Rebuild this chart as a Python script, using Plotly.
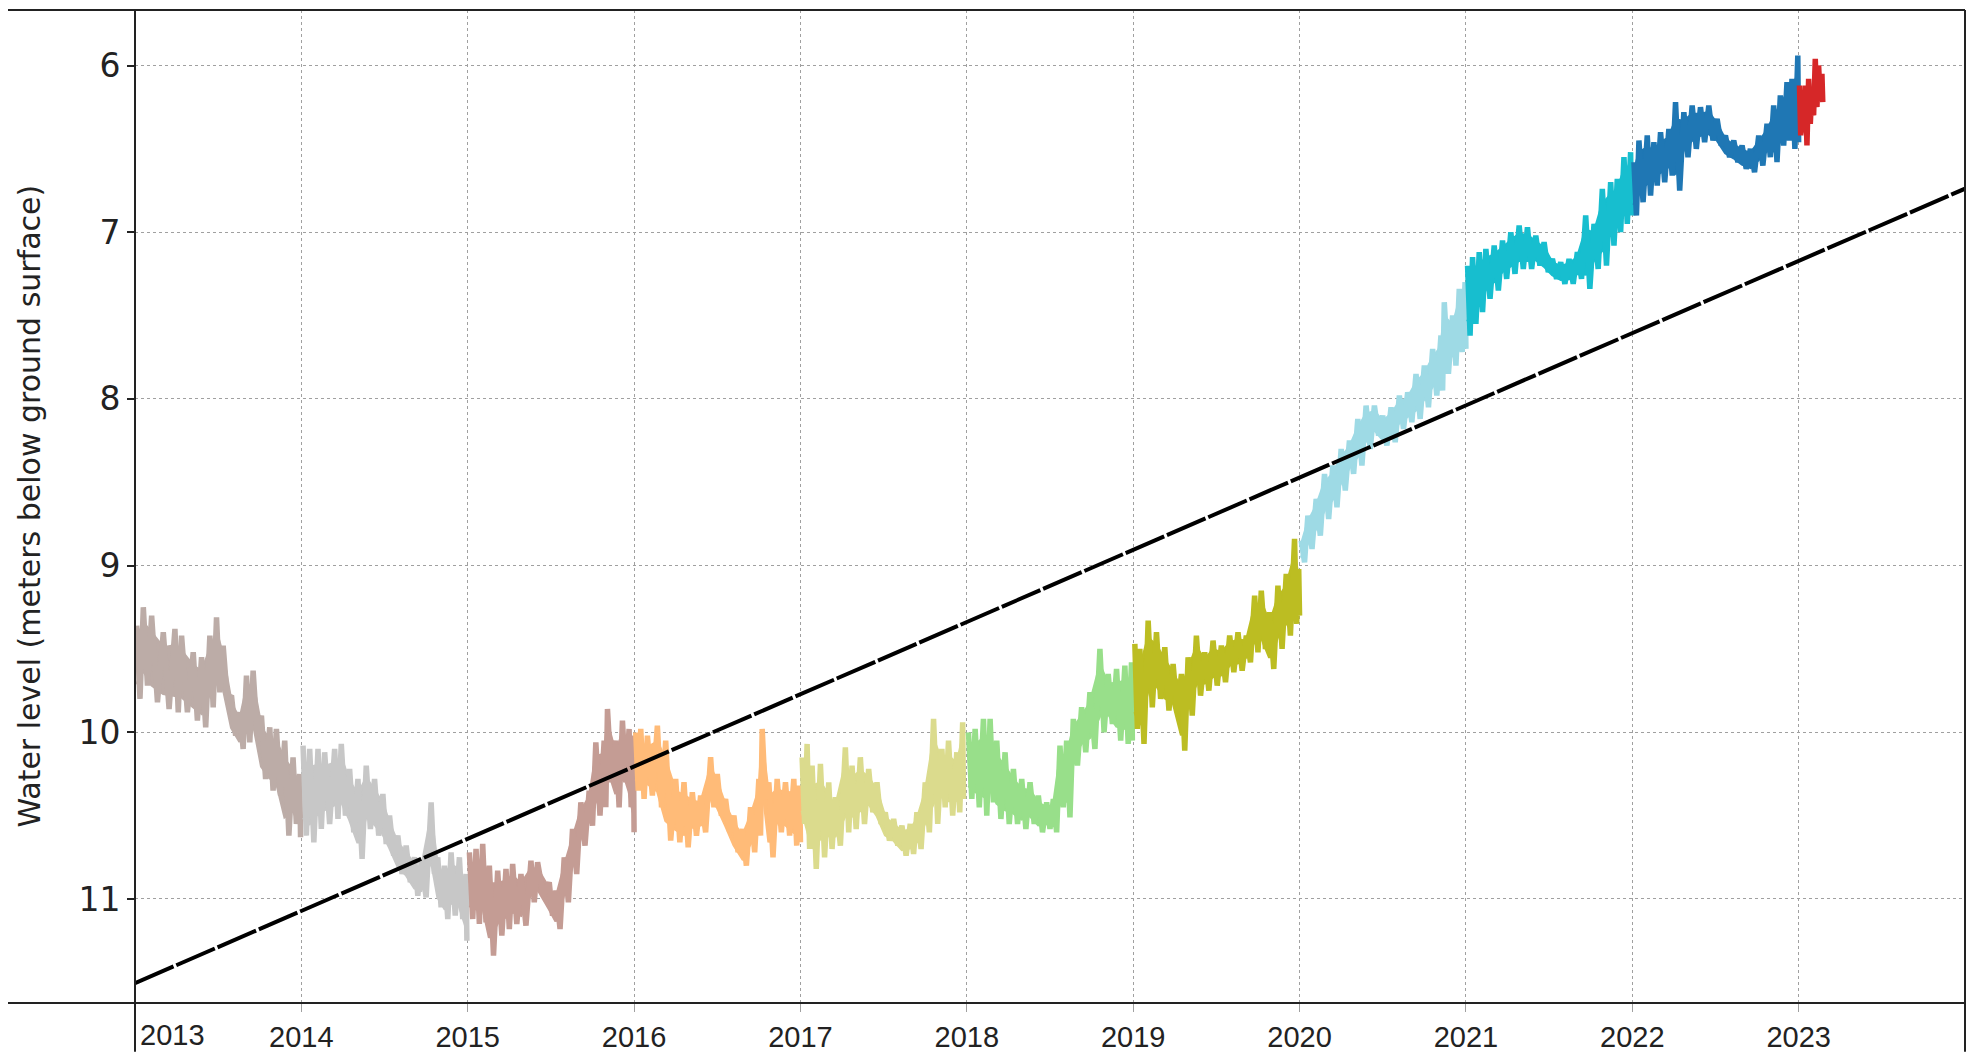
import plotly.graph_objects as go

# ---------------- data ----------------
YEARS = [2013, 2014, 2015, 2016, 2017, 2018, 2019, 2020, 2021, 2022, 2023]
COLORS = ["#bcaca7", "#c7c7c7", "#c49c94", "#ffbb78", "#dbdb8d", "#98df8a",
          "#bcbd22", "#9edae5", "#17becf", "#1f77b4", "#d62728"]

# (fraction of year, upper reading, lower reading) in metres below ground surface
r2013 = [(0.01, 9.36, 9.80), (0.05, 9.25, 9.72), (0.10, 9.30, 9.82), (0.17, 9.40, 9.86),
         (0.24, 9.38, 9.88), (0.28, 9.42, 9.88), (0.35, 9.52, 9.93), (0.40, 9.55, 9.97),
         (0.45, 9.42, 9.85), (0.49, 9.31, 9.76), (0.53, 9.48, 9.80), (0.58, 9.78, 10.02),
         (0.63, 9.88, 10.10), (0.67, 9.66, 10.06), (0.71, 9.63, 10.02), (0.76, 9.90, 10.28),
         (0.81, 9.97, 10.35), (0.85, 9.98, 10.38), (0.90, 10.05, 10.62), (0.95, 10.15, 10.55),
         (0.99, 10.25, 10.63)]
r2014 = [(0.01, 10.08, 10.62), (0.05, 10.10, 10.66), (0.10, 10.10, 10.58), (0.14, 10.12, 10.55),
         (0.20, 10.10, 10.52), (0.24, 10.07, 10.50), (0.29, 10.22, 10.60), (0.34, 10.28, 10.76),
         (0.39, 10.20, 10.58), (0.44, 10.28, 10.62), (0.49, 10.37, 10.67), (0.53, 10.50, 10.74),
         (0.58, 10.62, 10.85), (0.63, 10.68, 10.90), (0.68, 10.75, 10.98), (0.72, 10.78, 10.99),
         (0.78, 10.42, 10.85), (0.82, 10.75, 11.05), (0.86, 10.80, 11.12), (0.90, 10.72, 11.10),
         (0.95, 10.75, 11.12), (0.99, 10.85, 11.25)]
r2015 = [(0.01, 10.72, 11.12), (0.05, 10.70, 11.15), (0.09, 10.67, 11.14), (0.13, 10.80, 11.34),
         (0.18, 10.83, 11.22), (0.23, 10.82, 11.18), (0.27, 10.79, 11.15), (0.32, 10.85, 11.16),
         (0.38, 10.77, 11.02), (0.42, 10.78, 10.98), (0.49, 10.90, 11.10), (0.53, 10.95, 11.18),
         (0.58, 10.75, 11.02), (0.63, 10.58, 10.85), (0.68, 10.42, 10.68), (0.73, 10.35, 10.56),
         (0.77, 10.06, 10.50), (0.82, 10.05, 10.45), (0.84, 9.86, 10.30), (0.89, 10.05, 10.45),
         (0.93, 9.93, 10.30), (0.97, 9.98, 10.45), (0.995, 10.02, 10.60)]
r2016 = [(0.01, 10.00, 10.35), (0.04, 9.98, 10.40), (0.08, 10.02, 10.38), (0.14, 9.96, 10.45),
         (0.19, 10.05, 10.65), (0.25, 10.28, 10.66), (0.30, 10.30, 10.69), (0.35, 10.36, 10.62),
         (0.40, 10.38, 10.60), (0.46, 10.15, 10.45), (0.50, 10.25, 10.50), (0.55, 10.40, 10.60),
         (0.60, 10.50, 10.72), (0.65, 10.58, 10.80), (0.70, 10.45, 10.72), (0.75, 10.28, 10.62),
         (0.77, 9.98, 10.40), (0.81, 10.30, 10.75), (0.86, 10.28, 10.60), (0.91, 10.30, 10.62),
         (0.96, 10.28, 10.68), (0.995, 10.32, 10.66)]
r2017 = [(0.01, 10.15, 10.55), (0.04, 10.07, 10.70), (0.07, 10.20, 10.82), (0.12, 10.19, 10.75),
         (0.17, 10.30, 10.70), (0.21, 10.39, 10.68), (0.27, 10.09, 10.60), (0.31, 10.20, 10.58),
         (0.36, 10.15, 10.55), (0.41, 10.22, 10.48), (0.46, 10.30, 10.55), (0.51, 10.48, 10.65),
         (0.56, 10.52, 10.68), (0.61, 10.56, 10.74), (0.66, 10.55, 10.73), (0.70, 10.48, 10.70),
         (0.75, 10.30, 10.60), (0.80, 9.92, 10.55), (0.85, 10.10, 10.45), (0.89, 10.05, 10.50),
         (0.94, 10.12, 10.48), (0.975, 9.94, 10.40)]
r2018 = [(0.01, 10.00, 10.40), (0.05, 9.98, 10.45), (0.10, 9.92, 10.50), (0.14, 9.92, 10.42),
         (0.18, 10.05, 10.52), (0.23, 10.12, 10.55), (0.28, 10.22, 10.55), (0.33, 10.28, 10.58),
         (0.38, 10.30, 10.55), (0.43, 10.38, 10.60), (0.48, 10.42, 10.58), (0.52, 10.40, 10.60),
         (0.56, 10.08, 10.45), (0.60, 10.05, 10.51), (0.64, 9.92, 10.20), (0.69, 9.85, 10.12),
         (0.74, 9.76, 10.10), (0.80, 9.50, 10.00), (0.85, 9.65, 9.95), (0.90, 9.62, 10.05),
         (0.95, 9.60, 10.07), (0.99, 9.58, 10.05)]
r2019 = [(0.01, 9.47, 9.98), (0.04, 9.50, 10.07), (0.09, 9.33, 9.85), (0.14, 9.40, 9.80),
         (0.19, 9.49, 9.87), (0.24, 9.59, 9.88), (0.29, 9.65, 10.11), (0.33, 9.55, 9.90),
         (0.38, 9.42, 9.78), (0.43, 9.52, 9.75), (0.48, 9.45, 9.72), (0.53, 9.48, 9.70),
         (0.58, 9.42, 9.64), (0.63, 9.40, 9.63), (0.68, 9.42, 9.58), (0.73, 9.18, 9.52),
         (0.77, 9.15, 9.50), (0.82, 9.28, 9.62), (0.87, 9.12, 9.50), (0.92, 9.05, 9.42),
         (0.97, 8.84, 9.35), (0.995, 9.02, 9.30)]
r2020 = [(0.01, 8.85, 8.98), (0.05, 8.70, 8.90), (0.10, 8.60, 8.82), (0.15, 8.45, 8.72),
         (0.20, 8.40, 8.65), (0.25, 8.30, 8.55), (0.30, 8.25, 8.45), (0.35, 8.12, 8.40),
         (0.40, 8.04, 8.30), (0.45, 8.04, 8.22), (0.50, 8.10, 8.28), (0.55, 8.05, 8.26),
         (0.60, 7.98, 8.18), (0.65, 7.96, 8.14), (0.70, 7.85, 8.12), (0.75, 7.80, 8.05),
         (0.80, 7.70, 7.98), (0.85, 7.62, 7.95), (0.87, 7.42, 7.85), (0.92, 7.50, 7.80),
         (0.96, 7.34, 7.72), (0.995, 7.30, 7.70)]
r2021 = [(0.01, 7.20, 7.62), (0.04, 7.15, 7.55), (0.08, 7.12, 7.48), (0.12, 7.10, 7.40),
         (0.17, 7.08, 7.35), (0.22, 7.05, 7.28), (0.27, 7.00, 7.25), (0.32, 6.96, 7.22),
         (0.37, 6.97, 7.22), (0.42, 7.02, 7.20), (0.47, 7.06, 7.24), (0.52, 7.16, 7.28),
         (0.57, 7.18, 7.31), (0.62, 7.16, 7.31), (0.67, 7.12, 7.28), (0.72, 6.90, 7.34),
         (0.77, 6.95, 7.22), (0.82, 6.74, 7.20), (0.87, 6.70, 7.08), (0.91, 6.68, 7.00),
         (0.95, 6.55, 6.95), (0.99, 6.52, 6.90)]
r2022 = [(0.01, 6.58, 6.90), (0.04, 6.45, 6.82), (0.09, 6.42, 6.78), (0.13, 6.46, 6.72),
         (0.17, 6.40, 6.70), (0.22, 6.38, 6.66), (0.26, 6.22, 6.75), (0.31, 6.28, 6.55),
         (0.36, 6.24, 6.50), (0.41, 6.25, 6.46), (0.46, 6.24, 6.45), (0.51, 6.32, 6.48),
         (0.56, 6.42, 6.55), (0.61, 6.45, 6.58), (0.66, 6.48, 6.62), (0.71, 6.50, 6.64),
         (0.76, 6.42, 6.60), (0.81, 6.35, 6.55), (0.85, 6.24, 6.58), (0.89, 6.18, 6.48),
         (0.93, 6.10, 6.45), (0.96, 6.08, 6.50), (0.995, 5.94, 6.46)]
r2023 = [(0.005, 6.12, 6.42), (0.02, 6.15, 6.40), (0.04, 6.12, 6.48), (0.06, 6.08, 6.35),
         (0.08, 6.15, 6.30), (0.10, 5.96, 6.25), (0.12, 6.00, 6.20), (0.14, 6.05, 6.22)]
READINGS = [r2013, r2014, r2015, r2016, r2017, r2018, r2019, r2020, r2021, r2022, r2023]

TREND_X = [2013.0, 2024.0]
TREND_Y = [11.505, 6.739]

X_TICKS = [2014, 2015, 2016, 2017, 2018, 2019, 2020, 2021, 2022, 2023]
Y_TICKS = [6, 7, 8, 9, 10, 11]
Y_TITLE = "Water level (meters below ground surface)"

# ---------------- figure ----------------
# the page body has an 8 px margin, so the figure is 16 px smaller than the window
W, H = 1961, 1047
ML, MR, MT, MB = 127, 4, 2, 49
PW, PH = W - ML - MR, H - MT - MB

X_FONT = "Liberation Sans Narrow, Arial Narrow, Liberation Sans"
CORE = 0.2  # share of the fluctuation range trimmed from each side for the solid core

fig = go.Figure()

for year, color, rows in zip(YEARS, COLORS, READINGS):
    fx = [year + f for f, _, _ in rows]
    core_hi = [hi + CORE * (lo - hi) for _, hi, lo in rows]
    core_lo = [lo - CORE * (lo - hi) for _, hi, lo in rows]
    # solid core of the record
    fig.add_trace(go.Scatter(x=fx + fx[::-1], y=core_hi + core_lo[::-1], mode="lines",
                             fill="toself", fillcolor=color,
                             line=dict(color=color, width=3),
                             showlegend=False, hoverinfo="skip"))
    # jagged fluctuation between upper and lower readings
    xs, ys = [], []
    for i, (f, hi, lo) in enumerate(rows):
        nxt = rows[i + 1][0] if i + 1 < len(rows) else f + 0.01
        xs += [year + f, year + (f + nxt) / 2]
        ys += [hi, lo]
    fig.add_trace(go.Scatter(x=xs, y=ys, mode="lines",
                             line=dict(color=color, width=5.5),
                             showlegend=False, hoverinfo="skip"))

fig.add_trace(go.Scatter(x=TREND_X, y=TREND_Y, mode="lines",
                         line=dict(color="black", width=4, dash="42px,3px"),
                         showlegend=False, hoverinfo="skip"))

grid = dict(showgrid=True, gridcolor="#a0a0a0", gridwidth=1, griddash="dot")

fig.update_xaxes(range=[2013.0, 2024.0], tickmode="array", tickvals=X_TICKS,
                 ticktext=[str(t) for t in X_TICKS], ticks="outside", ticklen=8,
                 tickcolor="#a0a0a0", tickfont=dict(family=X_FONT, size=29, color="#222222"),
                 showline=False, zeroline=False, **grid)
fig.update_yaxes(range=[11.624, 5.667], tickmode="array", tickvals=Y_TICKS,
                 ticks="outside", ticklen=7, tickcolor="#222222", tickwidth=1.5,
                 tickfont=dict(family="DejaVu Sans", size=33, color="#222222"),
                 ticklabelstandoff=0,
                 showline=False, zeroline=False, **grid)

# frame lines (extending past the plotting area as in the reference)
lx = -ML / PW
by = -MB / PH
line = dict(color="#222222", width=2)
fig.add_shape(type="line", xref="paper", yref="paper", x0=lx, x1=1, y0=1, y1=1, line=line)
fig.add_shape(type="line", xref="paper", yref="paper", x0=lx, x1=1, y0=0, y1=0, line=line)
fig.add_shape(type="line", xref="paper", yref="paper", x0=0, x1=0, y0=by, y1=1, line=line)
fig.add_shape(type="line", xref="paper", yref="paper", x0=1, x1=1, y0=by, y1=1, line=line)

fig.add_annotation(text=Y_TITLE, xref="paper", yref="paper", x=-106 / PW, y=0.5,
                   textangle=-90, showarrow=False, xanchor="center", yanchor="middle",
                   font=dict(family="DejaVu Sans", size=30, color="#222222"))
fig.add_annotation(text=str(YEARS[0]), xref="paper", yref="paper", x=3 / PW, y=0,
                   yshift=-14, showarrow=False, xanchor="left", yanchor="top",
                   font=dict(family=X_FONT, size=29, color="#222222"))

fig.update_layout(width=W, height=H, margin=dict(l=ML, r=MR, t=MT, b=MB),
                  paper_bgcolor="white", plot_bgcolor="white")

fig.write_html("out.html")
